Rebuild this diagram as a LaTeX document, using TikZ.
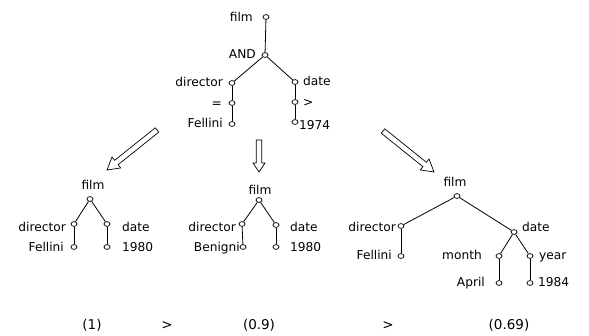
\documentclass[tikz,border=0pt]{standalone}
\usepackage{fontspec}
\setmainfont{DejaVu Sans}
\usetikzlibrary{shapes.geometric,calc}
\tikzset{
  x=1pt, y=-1pt,
  leaf/.style={draw, ellipse, line width=0.7pt, minimum width=6pt, minimum height=4.8pt, inner sep=0pt, fill=white},
  edge/.style={line width=0.8pt},
  lbl/.style={inner sep=0pt, font=\fontsize{12.2}{14}\selectfont},
  lw/.style={lbl, anchor=base west},
  le/.style={lbl, anchor=base east},
  lc/.style={lbl, anchor=base},
  score/.style={inner sep=0pt, anchor=base, font=\fontsize{13.5}{16}\selectfont},
  hollow/.style={draw, line width=0.7pt, fill=white, line join=miter}
}
% hollow block arrow between two named coordinates: #1 tail, #2 tip,
% #3 shaft half width, #4 head half width, #5 head length
\newcommand\blockarrow[5]{%
  \path[hollow] let \p1=($(#2)-(#1)$), \n1={atan2(\y1,\x1)}, \n2={veclen(\x1,\y1)} in
    [shift={(#1)}, rotate=\n1]
    (0,-#3) -- ({\n2-#5},-#3) -- ({\n2-#5},-#4) -- (\n2,0) -- ({\n2-#5},#4) -- ({\n2-#5},#3) -- (0,#3) -- cycle;}
\begin{document}
\begin{tikzpicture}
\useasboundingbox (0,0) rectangle (589,336);

% query tree
\node[leaf] (qfilm) at (266,17) {};
\node[leaf] (qand) at (265,55) {};
\node[leaf] (qdir) at (232,83) {};
\node[leaf] (qeq) at (232,103) {};
\node[leaf] (qfel) at (232,124) {};
\node[leaf] (qdate) at (295,82) {};
\node[leaf] (qgt) at (295,102) {};
\node[leaf] (qyr) at (295,122) {};
\draw[edge] (qfilm) -- (qand);
\draw[edge] (qand) -- (qdir);
\draw[edge] (qand) -- (qdate);
\draw[edge] (qdir) -- (qeq);
\draw[edge] (qeq) -- (qfel);
\draw[edge] (qdate) -- (qgt);
\draw[edge] (qgt) -- (qyr);
\node[le] (tqfilm) at (253,22) {film};
\node[le] (tqand) at (256,59) {AND};
\node[le] (tqdir) at (223,87) {director};
\node[le] (tqeq) at (222,107.5) {=};
\node[le] (tqfel) at (223,128) {Fellini};
\node[lw] (tqdate) at (303,86) {date};
\node[lw] (tqgt) at (303,106.5) {>};
\node[lw] (tqyr) at (299,130) {1974};

% answer 1
\node[leaf] (afilm) at (90,199) {};
\node[leaf] (adir) at (74,224) {};
\node[leaf] (afel) at (74,247) {};
\node[leaf] (adate) at (107,224) {};
\node[leaf] (ayr) at (107,247) {};
\draw[edge] (afilm) -- (adir);
\draw[edge] (afilm) -- (adate);
\draw[edge] (adir) -- (afel);
\draw[edge] (adate) -- (ayr);
\node[lc] (tafilm) at (93,190) {film};
\node[le] (tadir) at (66,232) {director};
\node[le] (tafel) at (64,252) {Fellini};
\node[lw] (tadate) at (122,232) {date};
\node[lw] (tayr) at (122,252) {1980};

% answer 2
\node[leaf] (bfilm) at (259,200) {};
\node[leaf] (bdir) at (242,224) {};
\node[leaf] (bben) at (243,247) {};
\node[leaf] (bdate) at (276,225) {};
\node[leaf] (byr) at (276,247) {};
\draw[edge] (bfilm) -- (bdir);
\draw[edge] (bfilm) -- (bdate);
\draw[edge] (bdir) -- (bben);
\draw[edge] (bdate) -- (byr);
\node[lc] (tbfilm) at (260,195) {film};
\node[le] (tbdir) at (236,232) {director};
\node[le] (tbben) at (240,252) {Benigni};
\node[lw] (tbdate) at (290,232) {date};
\node[lw] (tbyr) at (290,252) {1980};

% answer 3
\node[leaf] (cfilm) at (457,196) {};
\node[leaf] (cdir) at (401,226) {};
\node[leaf] (cfel) at (401,256) {};
\node[leaf] (cdate) at (514,232) {};
\node[leaf] (cmon) at (499,256) {};
\node[leaf] (capr) at (499,283) {};
\node[leaf] (cyear) at (530,256) {};
\node[leaf] (cyr) at (530,283) {};
\draw[edge] (cfilm) -- (cdir);
\draw[edge] (cfilm) -- (cdate);
\draw[edge] (cdir) -- (cfel);
\draw[edge] (cdate) -- (cmon);
\draw[edge] (cdate) -- (cyear);
\draw[edge] (cmon) -- (capr);
\draw[edge] (cyear) -- (cyr);
\node[lc] (tcfilm) at (455,187) {film};
\node[le] (tcdir) at (396,232) {director};
\node[le] (tcfel) at (392,260) {Fellini};
\node[lw] (tcdate) at (522,232) {date};
\node[le] (tcmon) at (482,260) {month};
\node[le] (tcapr) at (485,287) {April};
\node[lw] (tcyear) at (539,260) {year};
\node[lw] (tcyr) at (538,287) {1984};

% rewriting arrows
\coordinate (l0) at (157,130); \coordinate (l1) at (107,170);
\coordinate (m0) at (259,140); \coordinate (m1) at (259,172);
\coordinate (r0) at (383,131); \coordinate (r1) at (434,172);
\blockarrow{l0}{l1}{2.8}{7}{12}
\blockarrow{m0}{m1}{2.8}{6}{9}
\blockarrow{r0}{r1}{2.8}{7}{12}

% ranking
\node[score] (s1) at (92,330) {(1)};
\node[score] (g1) at (167,330) {>};
\node[score] (s2) at (259,330) {(0.9)};
\node[score] (g2) at (388,330) {>};
\node[score] (s3) at (509,330) {(0.69)};
\end{tikzpicture}
\end{document}
